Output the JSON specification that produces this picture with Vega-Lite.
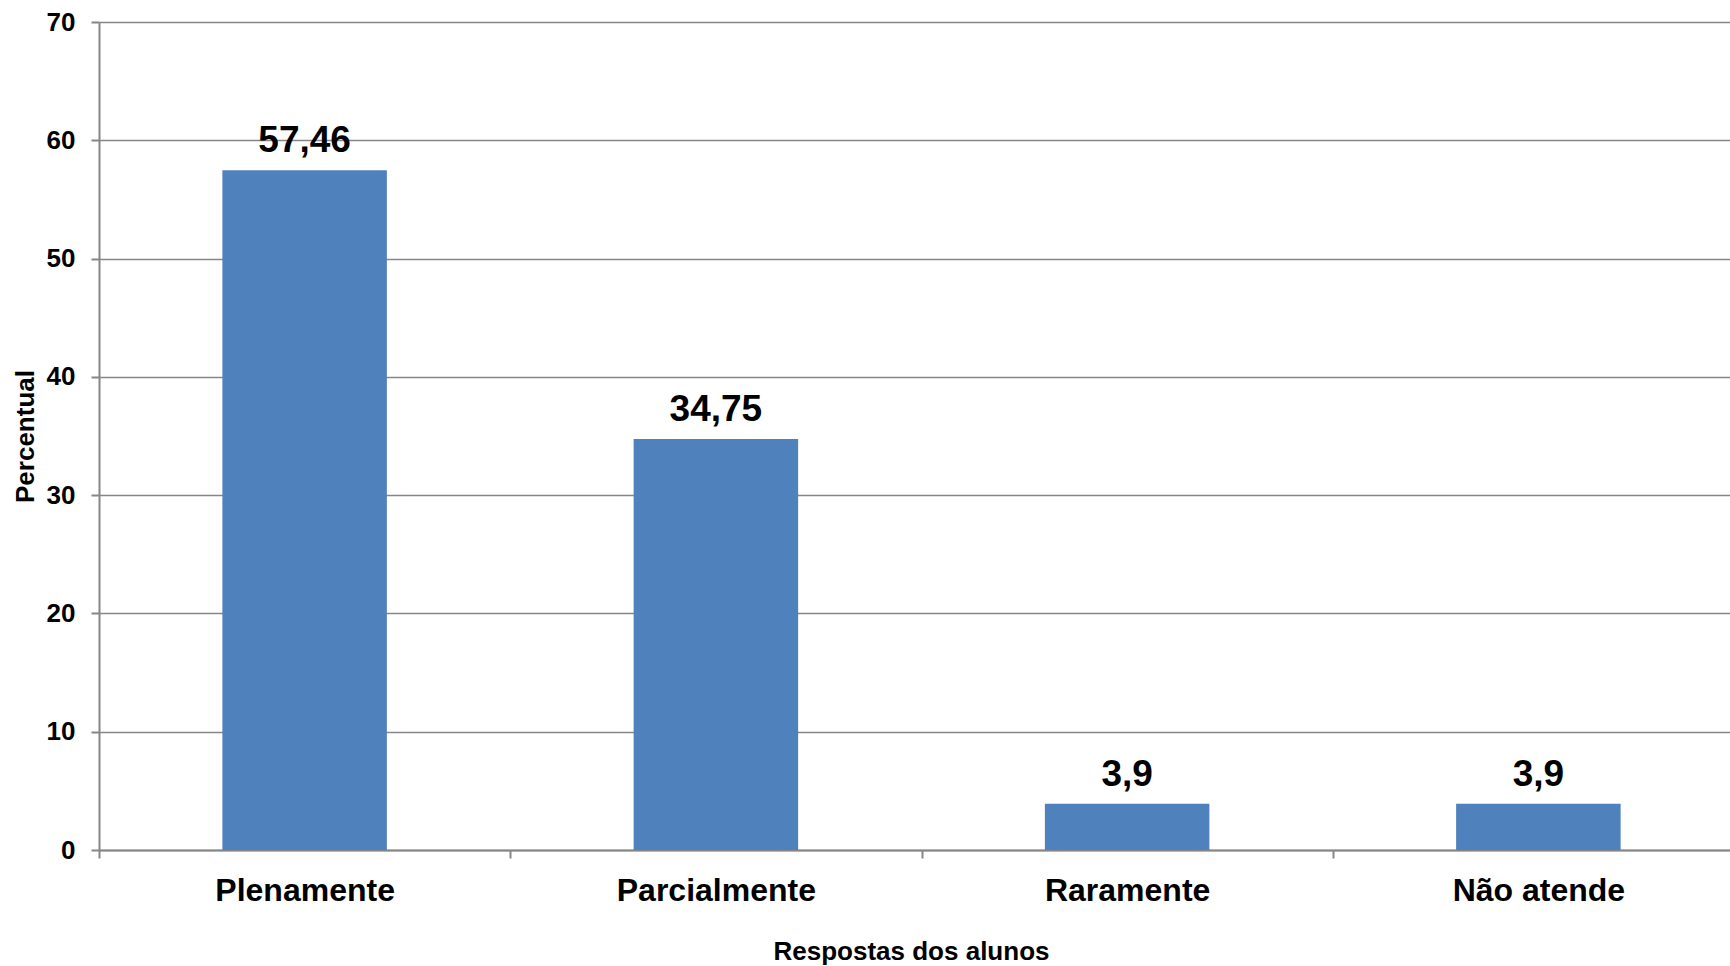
{
  "$schema": "https://vega.github.io/schema/vega-lite/v6.json",
  "width": 1645,
  "height": 828,
  "autosize": {"type": "none"},
  "padding": {"left": 99, "top": 22, "right": 0, "bottom": 116},
  "background": "white",
  "data": {
    "values": [
      {"resposta": "Plenamente", "percentual": 57.46, "rotulo": "57,46"},
      {"resposta": "Parcialmente", "percentual": 34.75, "rotulo": "34,75"},
      {"resposta": "Raramente", "percentual": 3.9, "rotulo": "3,9"},
      {"resposta": "Não atende", "percentual": 3.9, "rotulo": "3,9"}
    ]
  },
  "config": {
    "view": {"stroke": null},
    "font": "Liberation Sans",
    "axis": {
      "domainColor": "#868686",
      "tickColor": "#868686",
      "gridColor": "#868686",
      "domainWidth": 2,
      "tickWidth": 2,
      "gridWidth": 1.5,
      "labelColor": "#000000",
      "titleColor": "#000000",
      "labelFont": "Liberation Sans",
      "titleFont": "Liberation Sans",
      "labelFontWeight": "bold",
      "titleFontWeight": "bold"
    }
  },
  "layer": [
    {
      "mark": {"type": "bar", "color": "#4F81BD", "width": {"band": 0.4}},
      "encoding": {
        "x": {
          "field": "resposta",
          "type": "nominal",
          "sort": null,
          "scale": {"paddingInner": 0, "paddingOuter": 0},
          "axis": {
            "title": "Respostas dos alunos",
            "titleFontSize": 26,
            "titlePadding": 32,
            "titleX": 812,
            "labelFontSize": 32,
            "labelAngle": 0,
            "labelPadding": 17,
            "labelLimit": 0,
            "tickBand": "extent",
            "tickSize": 8,
            "grid": false
          }
        },
        "y": {
          "field": "percentual",
          "type": "quantitative",
          "scale": {"domain": [0, 70], "nice": false},
          "axis": {
            "title": "Percentual",
            "titleFontSize": 26,
            "titlePadding": 8,
            "labelFontSize": 26,
            "labelPadding": 16,
            "tickSize": 8,
            "values": [0, 10, 20, 30, 40, 50, 60, 70],
            "grid": true
          }
        }
      }
    },
    {
      "mark": {"type": "text", "fontSize": 37, "fontWeight": "bold", "color": "#000000", "baseline": "alphabetic", "dy": -18},
      "encoding": {
        "x": {"field": "resposta", "type": "nominal", "sort": null},
        "y": {"field": "percentual", "type": "quantitative"},
        "text": {"field": "rotulo"}
      }
    }
  ]
}
